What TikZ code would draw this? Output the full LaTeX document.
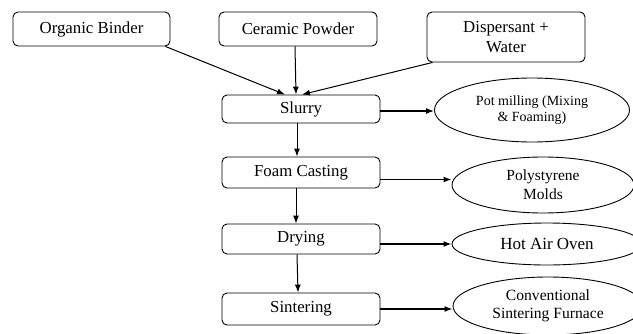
\documentclass[tikz,border=0pt]{standalone}
\usepackage{fontspec}
\setmainfont{Liberation Serif}
\usetikzlibrary{arrows.meta,shapes.geometric}
\begin{document}
\begin{tikzpicture}[x=1pt,y=-1pt,
  box/.style={draw, line width=0.9pt, rounded corners=5pt, inner sep=0pt, align=center,
    font=\fontsize{16.8}{20}\selectfont},
  ell/.style={draw, ellipse, line width=0.9pt, inner sep=0pt, align=center},
  arr/.style={draw, line width=1pt, -{Latex[length=8pt,width=6pt]}},
  harr/.style={draw, line width=1.4pt, -{Latex[length=8pt,width=6pt]}}]
\useasboundingbox (0,0) rectangle (633,333);
\clip (0,0) rectangle (633,333);
% top boxes
\node[box, minimum width=157pt, minimum height=34pt] (ob) at (91.5,29) {Organic Binder};
\node[box, minimum width=158pt, minimum height=34pt] (cp) at (298,29) {Ceramic Powder};
\node[box, minimum width=158pt, minimum height=50pt] (dw) at (506,37) {Dispersant +\\Water};
% process column
\node[box, minimum width=158pt, minimum height=28pt] (slurry) at (301,109) {Slurry};
\node[box, minimum width=158pt, minimum height=31pt] (foam) at (301,172.5) {Foam Casting};
\node[box, minimum width=158pt, minimum height=30pt] (drying) at (301,239) {Drying};
\node[box, minimum width=158pt, minimum height=32pt] (sinter) at (301,309) {Sintering};
% ellipses
\node[ell, minimum width=195pt, minimum height=64pt, font=\fontsize{14}{15.5}\selectfont] (pm) at (532,110) {Pot milling (Mixing\\\& Foaming)};
\node[ell, minimum width=182pt, minimum height=56pt, font=\fontsize{15.5}{19}\selectfont] (ps) at (543,185) {Polystyrene\\Molds};
\node[ell, minimum width=190pt, minimum height=42pt, font=\fontsize{17}{20}\selectfont] (hao) at (547,244) {Hot Air Oven};
\node[ell, minimum width=190pt, minimum height=58pt, font=\fontsize{15.6}{18}\selectfont] (csf) at (548,306) {Conventional\\Sintering Furnace};
% inputs to slurry
\draw[arr] ([xshift=-5pt]ob.south east) -- ([xshift=-16pt]slurry.north);
\draw[arr] ([xshift=-3pt]cp.south) -- ([xshift=-5pt]slurry.north);
\draw[arr] ([xshift=6pt]dw.south west) -- ([xshift=1pt]slurry.north);
% column flow
\draw[arr] ([xshift=-4pt]slurry.south) -- ([xshift=-4pt]foam.north);
\draw[arr] ([xshift=-5pt]foam.south) -- ([xshift=-5pt]drying.north);
\draw[arr] ([xshift=-4pt]drying.south) -- ([xshift=-3pt]sinter.north);
% to equipment
\draw[harr] ([yshift=-2pt]slurry.east) -- ([yshift=-2pt]slurry.east -| pm.west);
\draw[harr] ([yshift=-7pt]foam.east) -- ([yshift=-7pt]foam.east -| ps.west);
\draw[harr] (drying.east |- hao.west) -- (hao.west);
\draw[harr] (sinter.east) -- (sinter.east -| csf.west);
\end{tikzpicture}
\end{document}
